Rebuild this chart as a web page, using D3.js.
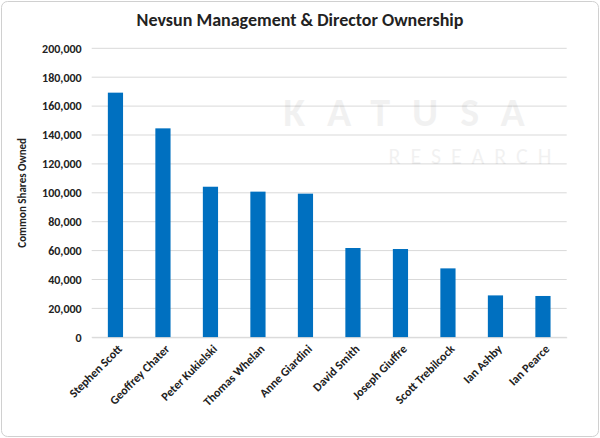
<!DOCTYPE html>
<html>
<head>
<meta charset="utf-8">
<script src="https://cdnjs.cloudflare.com/ajax/libs/d3/7.8.5/d3.min.js"></script>
<style>
  body { margin: 0; background: #fff; }
  text { font-family: Calibri, "Liberation Sans", Arial, sans-serif; }
</style>
</head>
<body>
<div id="chart"></div>
<script>
var names = ["Stephen Scott", "Geoffrey Chater", "Peter Kukielski", "Thomas Whelan", "Anne Giardini",
             "David Smith", "Joseph Giuffre", "Scott Trebilcock", "Ian Ashby", "Ian Pearce"];
var shares = [169300, 144600, 104200, 100800, 99400, 61800, 61100, 47700, 29000, 28600];
var yTicks = d3.range(0, 200001, 20000);

var width = 600, height = 438;
var margin = {top: 48.3, right: 33.3, bottom: 100.7, left: 91.7};

var svg = d3.select("#chart").append("svg")
    .attr("width", width)
    .attr("height", height);

svg.append("rect")
    .attr("x", 1.5).attr("y", 1.5)
    .attr("width", width - 3).attr("height", height - 3)
    .attr("rx", 6)
    .attr("fill", "#fff").attr("stroke", "#d0d0d0");

var x = d3.scaleBand().domain(names)
    .range([margin.left, width - margin.right])
    .paddingInner(0.68).paddingOuter(0.34);
var y = d3.scaleLinear().domain([0, 200000])
    .range([height - margin.bottom, margin.top]);

// gridlines
svg.append("g").selectAll("line").data(yTicks).enter().append("line")
    .attr("x1", margin.left).attr("x2", width - margin.right)
    .attr("y1", d => y(d)).attr("y2", d => y(d))
    .attr("stroke", "#d9d9d9").attr("stroke-width", 1);

// watermark
svg.append("text").attr("x", 415).attr("y", 126).attr("text-anchor", "middle")
    .attr("font-size", 40).attr("font-weight", "bold").attr("fill", "#000").attr("opacity", 0.05)
    .attr("letter-spacing", 22).text("KATUSA");
svg.append("text").attr("x", 475).attr("y", 164).attr("text-anchor", "middle")
    .attr("font-size", 22).attr("fill", "#000").attr("opacity", 0.05)
    .attr("letter-spacing", 10).text("RESEARCH");

// bars
svg.append("g").selectAll("rect").data(names).enter().append("rect")
    .attr("x", d => x(d)).attr("width", x.bandwidth())
    .attr("y", (d, i) => y(shares[i]))
    .attr("height", (d, i) => y(0) - y(shares[i]))
    .attr("fill", "#0070c0");

// y axis
var yAxis = svg.append("g")
    .attr("transform", "translate(" + margin.left + ",0)")
    .call(d3.axisLeft(y).tickValues(yTicks).tickFormat(d3.format(",")).tickSize(0).tickPadding(10));
yAxis.select(".domain").remove();
yAxis.selectAll("text").attr("font-size", 12).attr("font-weight", "bold").attr("fill", "#222");

// x axis
var xAxis = svg.append("g")
    .attr("transform", "translate(0," + y(0) + ")")
    .call(d3.axisBottom(x).tickSize(0).tickPadding(8));
xAxis.select(".domain").attr("stroke", "#d9d9d9");
xAxis.selectAll("text")
    .attr("font-size", 12).attr("font-weight", "bold").attr("fill", "#222")
    .attr("text-anchor", "end")
    .attr("transform", "rotate(-45)")
    .attr("dx", "-0.3em").attr("dy", "0.5em");

// titles
svg.append("text").attr("x", 300).attr("y", 26).attr("text-anchor", "middle")
    .attr("font-size", 18).attr("font-weight", "bold").attr("fill", "#222")
    .text("Nevsun Management & Director Ownership");
svg.append("text")
    .attr("transform", "translate(26," + (y(100000)) + ") rotate(-90)")
    .attr("text-anchor", "middle")
    .attr("font-size", 11).attr("font-weight", "bold").attr("fill", "#222")
    .text("Common Shares Owned");
</script>
</body>
</html>
